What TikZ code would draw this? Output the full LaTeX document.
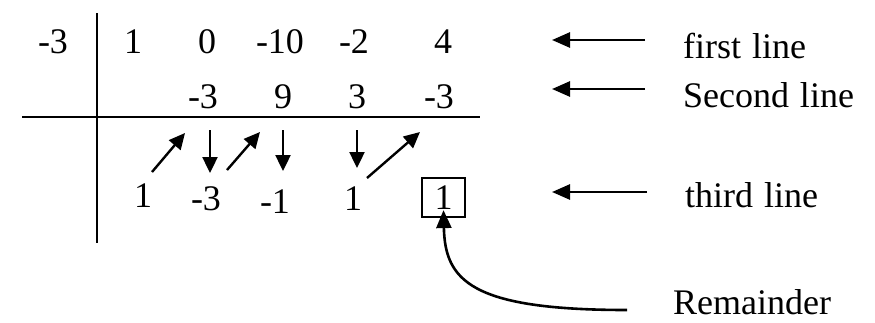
\documentclass[tikz,border=0pt]{standalone}
\usepackage{fontspec}
\setmainfont{Liberation Serif}
\usetikzlibrary{arrows.meta}
\begin{document}
\begin{tikzpicture}[x=1pt,y=-1pt,
  num/.style={font=\fontsize{36}{40}\selectfont, anchor=base, inner sep=0pt},
  lbl/.style={font=\fontsize{36}{40}\selectfont, anchor=base west, inner sep=0pt},
  rulel/.style={line width=2.6pt},
  arr/.style={line width=2.4pt, -{Triangle[length=16pt,width=15pt]}},
  larr/.style={line width=2.6pt, -{Triangle[length=18pt,width=15pt]}}]
\useasboundingbox (0,0) rectangle (875,322);
% divisor and first line
\node[num] (d)  at (53,53)  {-3};
\node[num] (a1) at (133,53) {1};
\node[num] (a2) at (207,53) {0};
\node[num] (a3) at (280,53) {-10};
\node[num] (a4) at (354,53) {-2};
\node[num] (a5) at (443,53) {4};
% second line
\node[num] (b2) at (203,108) {-3};
\node[num] (b3) at (283,108) {9};
\node[num] (b4) at (357,108) {3};
\node[num] (b5) at (439,108) {-3};
% third line
\node[num] (c1) at (143,207) {1};
\node[num] (c2) at (206,210) {-3};
\node[num] (c3) at (275,213) {-1};
\node[num] (c4) at (353,210) {1};
\node[draw, line width=2.2pt, minimum width=43pt, minimum height=39pt, inner sep=0pt,
      font=\fontsize{36}{40}\selectfont] (c5) at (443.5,197.5) {1};
% rules
\draw[rulel] (97,13) -- (97,243);
\draw[rulel] (22,117) -- (480,117);
% step arrows
\coordinate (s1) at (152,172); \coordinate (e1) at (185,133);
\coordinate (s2) at (210,130); \coordinate (e2) at (210,173);
\coordinate (s3) at (227,170); \coordinate (e3) at (260,132);
\coordinate (s4) at (283,130); \coordinate (e4) at (283,171);
\coordinate (s5) at (357,130); \coordinate (e5) at (357,168);
\coordinate (s6) at (367,178); \coordinate (e6) at (420,132);
\draw[arr] (s1) -- (e1);
\draw[arr] (s2) -- (e2);
\draw[arr] (s3) -- (e3);
\draw[arr] (s4) -- (e4);
\draw[arr] (s5) -- (e5);
\draw[arr] (s6) -- (e6);
% labels
\node[lbl] (l1) at (683,58)  {first\hspace{0.3em}line};
\node[lbl] (l2) at (683,107) {Second\hspace{0.3em}line};
\node[lbl] (l3) at (685,207) {third\hspace{0.3em}line};
\node[lbl, text depth=0pt] (l4) at (673,314) {Remainder};
\coordinate (p1) at (645,40);  \coordinate (q1) at (552,40);
\coordinate (p2) at (645,89);  \coordinate (q2) at (552,89);
\coordinate (p3) at (647,192); \coordinate (q3) at (552,192);
\draw[larr] (p1) -- (q1);
\draw[larr] (p2) -- (q2);
\draw[larr] (p3) -- (q3);
\coordinate (r0) at (627,310);
\draw[larr] (r0) .. controls (470,310) and (445,280) .. ([yshift=8pt]c5.south);
\end{tikzpicture}
\end{document}
